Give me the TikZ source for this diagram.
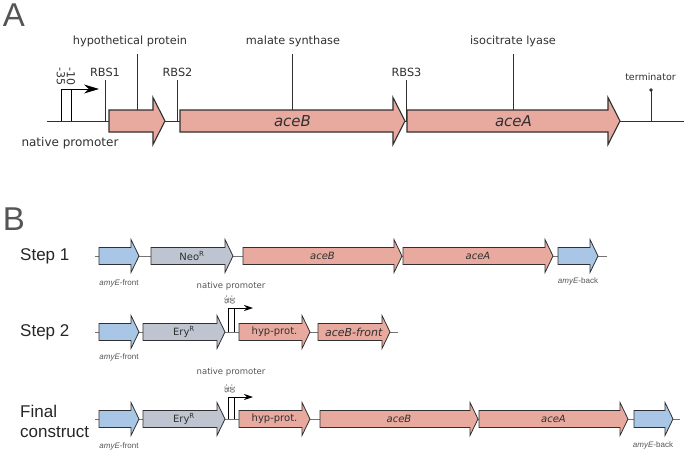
\documentclass[tikz,border=0pt]{standalone}
\usepackage{fontspec}
\setmainfont{DejaVu Sans}
\newfontfamily\headfont{Liberation Sans}
\usetikzlibrary{arrows.meta}
\definecolor{salmon}{HTML}{E8A99F}
\definecolor{amyblue}{HTML}{A9C6E6}
\definecolor{markgray}{HTML}{BEC5D1}
\definecolor{ink}{HTML}{303030}
\definecolor{softink}{HTML}{555555}

\tikzset{
  geneAline/.style={draw=ink, line width=1.1pt},
  geneBline/.style={draw=ink, line width=0.8pt},
  genetxtA/.style={inner sep=0pt, minimum height=22pt, font=\fontsize{15}{18}\selectfont, text=ink},
  genetxtB/.style={inner sep=0pt, minimum height=17pt, font=\fontsize{10}{12}\selectfont, text=ink},
  toplbl/.style={inner xsep=0pt, inner ysep=7pt, font=\fontsize{11.3}{13}\selectfont, text=ink},
  rbslbl/.style={inner xsep=0pt, inner ysep=4pt, font=\fontsize{11.3}{13}\selectfont, text=ink},
  termlbl/.style={inner sep=0pt, font=\fontsize{9.5}{11}\selectfont, text=ink},
  promAlbl/.style={inner sep=0pt, rotate=-90, font=\fontsize{11}{13}\selectfont, text=ink},
  promBlbl/.style={inner sep=0pt, rotate=-90, font=\fontsize{6}{7}\selectfont, text=ink},
  nativeA/.style={inner sep=0pt, font=\fontsize{12}{14}\selectfont, text=ink},
  nativeB/.style={inner sep=0pt, font=\fontsize{8.5}{10}\selectfont, text=softink},
  amylbl/.style={inner sep=0pt, font=\headfont\fontsize{8}{10}\selectfont, text=softink},
  steplbl/.style={inner sep=0pt, font=\headfont\fontsize{17}{20}\selectfont, text=black!85},
  panel/.style={inner sep=0pt, font=\headfont\fontsize{33}{36}\selectfont, text=softink},
  tickline/.style={draw=ink, line width=0.9pt},
  spineA/.style={draw=ink, line width=0.9pt},
  spineB/.style={draw=black!55, line width=0.7pt},
  promline/.style={draw=black, line width=0.9pt}
}

% name, x start, x tip, y, fill, text
\newcommand{\geneA}[6]{%
  \draw[geneAline, fill=#5] (#2,#4-11) -- (#3-12,#4-11) -- (#3-12,#4-23.5) -- (#3,#4)
    -- (#3-12,#4+23.5) -- (#3-12,#4+11) -- (#2,#4+11) -- cycle;
  \node at ({(#2+#3)/2},#4) [genetxtA] (#1) {#6};}
\newcommand{\geneB}[6]{%
  \draw[geneBline, fill=#5] (#2,#4-8.5) -- (#3-8,#4-8.5) -- (#3-8,#4-16.5) -- (#3,#4)
    -- (#3-8,#4+16.5) -- (#3-8,#4+8.5) -- (#2,#4+8.5) -- cycle;
  \node at ({(#2+#3)/2},#4) [genetxtB] (#1) {#6};}
% prefix, backbone coordinate, top y
\newcommand{\promB}[3]{%
  \coordinate (#1a) at (228.5,#3);
  \coordinate (#1b) at (234,#3);
  \coordinate (#1tip) at (253,#3);
  \draw[promline] (#1b |- #2) -- (#1b);
  \draw[promline, -{Stealth[length=9pt,width=6pt]}] (#1a |- #2) -- (#1a) -- (#1tip);
  \node at (227,#3-3) [promBlbl, anchor=east] (#1m35) {-35};
  \node at (232.5,#3-3) [promBlbl, anchor=east] (#1m10) {-10};}

\begin{document}
\begin{tikzpicture}[x=1pt,y=-1pt]
\useasboundingbox (0,0) rectangle (685,453);

\node at (14,15) [panel] (pA) {A};
\coordinate (a0) at (47,121);
\coordinate (a1) at (684,121);
\draw[spineA] (a0) -- (a1);
\coordinate (pa35) at (61,89);
\coordinate (pa10) at (71,89);
\coordinate (patip) at (99,89);
\draw[promline] (pa10 |- a0) -- (pa10);
\draw[promline, -{Stealth[length=15pt,width=9pt]}] (pa35 |- a0) -- (pa35) -- (patip);
\node at (61,86) [promAlbl, anchor=east] (am35) {-35};
\node at (71,86) [promAlbl, anchor=east] (am10) {-10};
\node at (70,143) [nativeA] (natA) {native promoter};
\geneA{hyp}{109}{165}{121}{salmon}{}
\geneA{aceB}{180}{405}{121}{salmon}{\textit{aceB}}
\geneA{aceA}{407}{620}{121}{salmon}{\textit{aceA}}
\node at (130,41.5) [toplbl] (hyplbl) {hypothetical protein};
\node at (293,41.5) [toplbl] (mslbl) {malate synthase};
\node at (513,41.5) [toplbl] (icllbl) {isocitrate lyase};
\draw[tickline] (hyp.north) -- (hyp.north |- hyplbl.south);
\draw[tickline] (aceB.north) -- (aceB.north |- mslbl.south);
\draw[tickline] (aceA.north) -- (aceA.north |- icllbl.south);
\node at (105,72) [rbslbl] (rbs1) {RBS1};
\node at (177.5,72) [rbslbl] (rbs2) {RBS2};
\node at (406.5,72) [rbslbl] (rbs3) {RBS3};
\draw[tickline] (rbs1.south) -- (rbs1.south |- a0);
\draw[tickline] (rbs2.south) -- (rbs2.south |- a0);
\draw[tickline] (rbs3.south) -- (rbs3.south |- a0);
\node at (650.5,77) [termlbl] (term) {terminator};
\coordinate (termtop) at (651,90);
\draw[tickline] (termtop) -- (termtop |- a0);
\fill[ink] (termtop) circle (1.8);

\node at (14,219) [panel] (pB) {B};
\node at (20,256) [steplbl, anchor=west] (step1) {Step 1};
\coordinate (s1a) at (95,256);
\coordinate (s1b) at (607,256);
\draw[spineB] (s1a) -- (s1b);
\geneB{s1front}{99}{139}{256}{amyblue}{}
\geneB{s1neo}{151}{233}{256}{markgray}{Neo\textsuperscript{R}}
\geneB{s1aceB}{243}{402}{256}{salmon}{\textit{aceB}}
\geneB{s1aceA}{403}{553}{256}{salmon}{\textit{aceA}}
\geneB{s1back}{558}{598}{256}{amyblue}{}
\node at (119,283) [amylbl] (s1fl) {\textit{amyE}-front};
\node at (578,281) [amylbl] (s1bl) {\textit{amyE}-back};

\node at (20,332) [steplbl, anchor=west] (step2) {Step 2};
\coordinate (s2a) at (95,332);
\coordinate (s2b) at (398,332);
\draw[spineB] (s2a) -- (s2b);
\geneB{s2front}{99}{139}{332}{amyblue}{}
\geneB{s2ery}{143}{225}{332}{markgray}{Ery\textsuperscript{R}}
\geneB{s2hyp}{239}{310}{332}{salmon}{hyp-prot.}
\geneB{s2aceB}{318}{390}{332}{salmon}{\fontsize{11}{13}\selectfont\textit{aceB-front}}
\promB{p2}{s2a}{308}
\node at (231,286) [nativeB] (np2) {native promoter};
\node at (119,357) [amylbl] (s2fl) {\textit{amyE}-front};

\node at (20,421) [steplbl, anchor=west, align=left] (final) {Final\\construct};
\coordinate (fa) at (95,419);
\coordinate (fb) at (680,419);
\draw[spineB] (fa) -- (fb);
\geneB{ffront}{99}{139}{419}{amyblue}{}
\geneB{fery}{143}{225}{419}{markgray}{Ery\textsuperscript{R}}
\geneB{fhyp}{239}{310}{419}{salmon}{hyp-prot.}
\geneB{faceB}{320}{478}{419}{salmon}{\textit{aceB}}
\geneB{faceA}{479}{628}{419}{salmon}{\textit{aceA}}
\geneB{fback}{634}{673}{419}{amyblue}{}
\promB{p3}{fa}{397}
\node at (231,372) [nativeB] (np3) {native promoter};
\node at (119,446) [amylbl] (ffl) {\textit{amyE}-front};
\node at (653,445) [amylbl] (fbl) {\textit{amyE}-back};
\end{tikzpicture}
\end{document}
